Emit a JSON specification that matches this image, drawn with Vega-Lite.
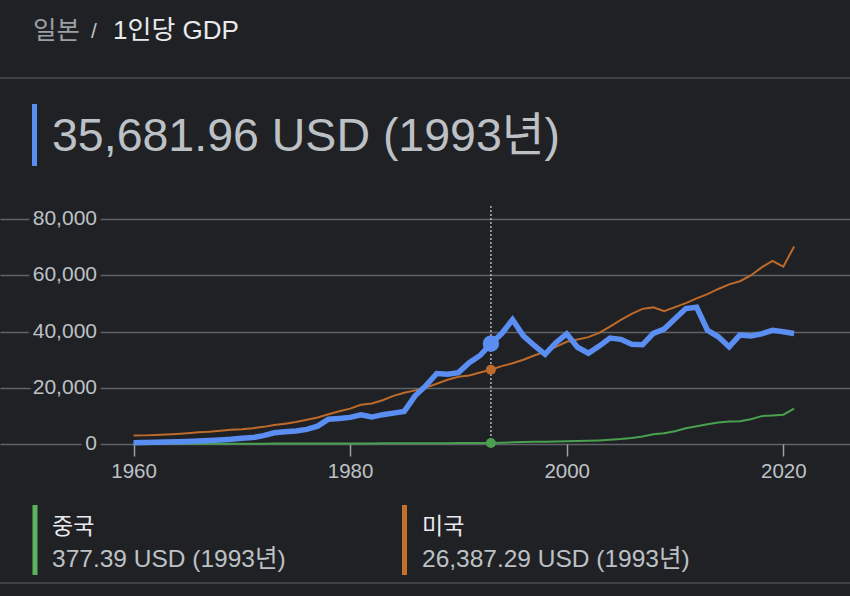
{
  "$schema": "https://vega.github.io/schema/vega-lite/v6.json",
  "width": 850,
  "height": 596,
  "autosize": {"type": "none"},
  "padding": 0,
  "background": "#202124",
  "config": {
    "view": {"stroke": null},
    "font": "Liberation Sans, Noto Sans CJK KR",
    "text": {"font": "Liberation Sans, Noto Sans CJK KR"}
  },
  "data": {
    "values": [
      {"year": 1960, "japan": 479, "usa": 3007, "china": 90},
      {"year": 1961, "japan": 564, "usa": 3067, "china": 76},
      {"year": 1962, "japan": 634, "usa": 3244, "china": 70},
      {"year": 1963, "japan": 717, "usa": 3375, "china": 74},
      {"year": 1964, "japan": 835, "usa": 3574, "china": 85},
      {"year": 1965, "japan": 919, "usa": 3828, "china": 98},
      {"year": 1966, "japan": 1059, "usa": 4146, "china": 104},
      {"year": 1967, "japan": 1229, "usa": 4336, "china": 97},
      {"year": 1968, "japan": 1451, "usa": 4696, "china": 91},
      {"year": 1969, "japan": 1669, "usa": 5032, "china": 100},
      {"year": 1970, "japan": 2037, "usa": 5234, "china": 113},
      {"year": 1971, "japan": 2272, "usa": 5609, "china": 119},
      {"year": 1972, "japan": 2967, "usa": 6094, "china": 132},
      {"year": 1973, "japan": 3997, "usa": 6726, "china": 157},
      {"year": 1974, "japan": 4354, "usa": 7226, "china": 160},
      {"year": 1975, "japan": 4659, "usa": 7801, "china": 178},
      {"year": 1976, "japan": 5197, "usa": 8592, "china": 165},
      {"year": 1977, "japan": 6335, "usa": 9453, "china": 185},
      {"year": 1978, "japan": 8821, "usa": 10565, "china": 156},
      {"year": 1979, "japan": 9105, "usa": 11674, "china": 184},
      {"year": 1980, "japan": 9463, "usa": 12575, "china": 195},
      {"year": 1981, "japan": 10361, "usa": 13976, "china": 197},
      {"year": 1982, "japan": 9578, "usa": 14434, "china": 203},
      {"year": 1983, "japan": 10425, "usa": 15544, "china": 225},
      {"year": 1984, "japan": 10985, "usa": 17121, "china": 251},
      {"year": 1985, "japan": 11585, "usa": 18237, "china": 294},
      {"year": 1986, "japan": 17112, "usa": 19071, "china": 282},
      {"year": 1987, "japan": 20745, "usa": 20039, "china": 252},
      {"year": 1988, "japan": 25052, "usa": 21417, "china": 284},
      {"year": 1989, "japan": 24813, "usa": 22857, "china": 311},
      {"year": 1990, "japan": 25371, "usa": 23889, "china": 318},
      {"year": 1991, "japan": 28925, "usa": 24342, "china": 333},
      {"year": 1992, "japan": 31465, "usa": 25419, "china": 366},
      {"year": 1993, "japan": 35681.96, "usa": 26387.29, "china": 377.39},
      {"year": 1994, "japan": 39269, "usa": 27695, "china": 473},
      {"year": 1995, "japan": 44198, "usa": 28691, "china": 610},
      {"year": 1996, "japan": 38437, "usa": 29968, "china": 709},
      {"year": 1997, "japan": 35022, "usa": 31459, "china": 782},
      {"year": 1998, "japan": 31903, "usa": 32854, "china": 829},
      {"year": 1999, "japan": 36027, "usa": 34515, "china": 873},
      {"year": 2000, "japan": 39169, "usa": 36330, "china": 959},
      {"year": 2001, "japan": 34406, "usa": 37134, "china": 1053},
      {"year": 2002, "japan": 32289, "usa": 37998, "china": 1149},
      {"year": 2003, "japan": 34808, "usa": 39490, "china": 1289},
      {"year": 2004, "japan": 37688, "usa": 41725, "china": 1509},
      {"year": 2005, "japan": 37218, "usa": 44123, "china": 1753},
      {"year": 2006, "japan": 35434, "usa": 46302, "china": 2099},
      {"year": 2007, "japan": 35275, "usa": 48050, "china": 2694},
      {"year": 2008, "japan": 39339, "usa": 48570, "china": 3468},
      {"year": 2009, "japan": 40855, "usa": 47195, "china": 3832},
      {"year": 2010, "japan": 44508, "usa": 48651, "china": 4550},
      {"year": 2011, "japan": 48168, "usa": 50066, "china": 5614},
      {"year": 2012, "japan": 48603, "usa": 51784, "china": 6301},
      {"year": 2013, "japan": 40454, "usa": 53291, "china": 7020},
      {"year": 2014, "japan": 38109, "usa": 55124, "china": 7636},
      {"year": 2015, "japan": 34524, "usa": 56763, "china": 8016},
      {"year": 2016, "japan": 38794, "usa": 57867, "china": 8094},
      {"year": 2017, "japan": 38387, "usa": 59915, "china": 8817},
      {"year": 2018, "japan": 39159, "usa": 62805, "china": 9905},
      {"year": 2019, "japan": 40416, "usa": 65095, "china": 10144},
      {"year": 2020, "japan": 39918, "usa": 63028, "china": 10409},
      {"year": 2021, "japan": 39313, "usa": 70249, "china": 12556}
    ]
  },
  "layer": [
    {
      "mark": {"type": "rule", "opacity": 0},
      "encoding": {
        "x": {"field": "year", "type": "quantitative",
          "scale": {"domain": [1947.67, 2026.16], "nice": false, "zero": false},
          "axis": {"orient": "bottom", "offset": -152, "values": [1960, 1980, 2000, 2020], "format": "d",
            "domain": false, "grid": false, "ticks": true, "tickSize": 12, "tickWidth": 1.5, "tickColor": "#9aa0a6",
            "labelFontSize": 20.5, "labelColor": "#bdc1c6", "labelPadding": 5, "labelFont": "Liberation Sans", "title": null}},
        "y": {"field": "japan", "type": "quantitative",
          "scale": {"domain": [-54044, 157867], "nice": false, "zero": false},
          "axis": {"values": [0, 20000, 40000, 60000, 80000], "grid": true, "gridColor": "#5f6368", "gridWidth": 1.5,
            "labels": false, "ticks": false, "domain": false, "title": null}}
      }
    },
    {
      "data": {"values": [{"v": 0}, {"v": 20000}, {"v": 40000}, {"v": 60000}, {"v": 80000}]},
      "mark": {"type": "text", "align": "right", "baseline": "middle", "fontSize": 21, "font": "Liberation Sans",
        "stroke": "#202124", "strokeWidth": 9, "fill": "#202124"},
      "encoding": {
        "x": {"value": 97},
        "y": {"field": "v", "type": "quantitative"},
        "text": {"field": "v", "type": "quantitative", "format": ",d"}
      }
    },
    {
      "data": {"values": [{"v": 0}, {"v": 20000}, {"v": 40000}, {"v": 60000}, {"v": 80000}]},
      "mark": {"type": "text", "align": "right", "baseline": "middle", "fontSize": 21, "font": "Liberation Sans",
        "fill": "#bdc1c6"},
      "encoding": {
        "x": {"value": 97},
        "y": {"field": "v", "type": "quantitative"},
        "text": {"field": "v", "type": "quantitative", "format": ",d"}
      }
    },
    {
      "transform": [{"filter": "datum.year == 1993"}],
      "mark": {"type": "rule", "color": "#b0b4b8", "strokeWidth": 1.5, "strokeDash": [2, 2]},
      "encoding": {
        "x": {"field": "year", "type": "quantitative"},
        "y": {"datum": 0},
        "y2": {"datum": 84700}
      }
    },
    {
      "mark": {"type": "line", "color": "#4aa04f", "strokeWidth": 2},
      "encoding": {
        "x": {"field": "year", "type": "quantitative"},
        "y": {"field": "china", "type": "quantitative"}
      }
    },
    {
      "mark": {"type": "line", "color": "#bd6a2b", "strokeWidth": 2},
      "encoding": {
        "x": {"field": "year", "type": "quantitative"},
        "y": {"field": "usa", "type": "quantitative"}
      }
    },
    {
      "mark": {"type": "line", "color": "#5a8ef2", "strokeWidth": 5.5, "strokeJoin": "miter"},
      "encoding": {
        "x": {"field": "year", "type": "quantitative"},
        "y": {"field": "japan", "type": "quantitative"}
      }
    },
    {
      "transform": [{"filter": "datum.year == 1993"}],
      "mark": {"type": "point", "filled": true, "opacity": 1, "color": "#4aa04f", "size": 100},
      "encoding": {
        "x": {"field": "year", "type": "quantitative"},
        "y": {"field": "china", "type": "quantitative"}
      }
    },
    {
      "transform": [{"filter": "datum.year == 1993"}],
      "mark": {"type": "point", "filled": true, "opacity": 1, "color": "#bd6a2b", "size": 100},
      "encoding": {
        "x": {"field": "year", "type": "quantitative"},
        "y": {"field": "usa", "type": "quantitative"}
      }
    },
    {
      "transform": [{"filter": "datum.year == 1993"}],
      "mark": {"type": "point", "filled": true, "opacity": 1, "color": "#5a8ef2", "size": 270},
      "encoding": {
        "x": {"field": "year", "type": "quantitative"},
        "y": {"field": "japan", "type": "quantitative"}
      }
    },
    {
      "data": {"values": [{"y": 78}, {"y": 583}]},
      "mark": {"type": "rule", "color": "#3c4043", "strokeWidth": 2},
      "encoding": {"x": {"value": 0}, "x2": {"value": 850}, "y": {"field": "y", "type": "quantitative", "scale": null}}
    },
    {
      "data": {"values": [{}]},
      "mark": {"type": "text", "text": "일본", "fontSize": 25.5, "fill": "#9aa0a6", "align": "left", "baseline": "alphabetic"},
      "encoding": {"x": {"value": 33}, "y": {"value": 39}}
    },
    {
      "data": {"values": [{}]},
      "mark": {"type": "text", "text": "/", "fontSize": 21, "fill": "#bdc1c6", "align": "left", "baseline": "alphabetic"},
      "encoding": {"x": {"value": 91}, "y": {"value": 38}}
    },
    {
      "data": {"values": [{}]},
      "mark": {"type": "text", "text": "1인당 GDP", "fontSize": 26, "fill": "#e8eaed", "align": "left", "baseline": "alphabetic"},
      "encoding": {"x": {"value": 113}, "y": {"value": 39}}
    },
    {
      "data": {"values": [{}]},
      "mark": {"type": "rule", "color": "#5a8ef2", "strokeWidth": 5},
      "encoding": {"x": {"value": 34.5}, "y": {"value": 104}, "y2": {"value": 166}}
    },
    {
      "data": {"values": [{}]},
      "mark": {"type": "text", "text": "35,681.96 USD (1993년)", "fontSize": 46.5, "fill": "#bdc1c6", "align": "left", "baseline": "alphabetic"},
      "encoding": {"x": {"value": 52}, "y": {"value": 151}}
    },
    {
      "data": {"values": [{}]},
      "mark": {"type": "rule", "color": "#5cb35f", "strokeWidth": 5},
      "encoding": {"x": {"value": 35}, "y": {"value": 505}, "y2": {"value": 575}}
    },
    {
      "data": {"values": [{}]},
      "mark": {"type": "text", "text": "중국", "fontSize": 23, "fill": "#e8eaed", "align": "left", "baseline": "alphabetic"},
      "encoding": {"x": {"value": 52}, "y": {"value": 534}}
    },
    {
      "data": {"values": [{}]},
      "mark": {"type": "text", "text": "377.39 USD (1993년)", "fontSize": 24.5, "fill": "#bdc1c6", "align": "left", "baseline": "alphabetic"},
      "encoding": {"x": {"value": 52}, "y": {"value": 567}}
    },
    {
      "data": {"values": [{}]},
      "mark": {"type": "rule", "color": "#c2702c", "strokeWidth": 5},
      "encoding": {"x": {"value": 404.5}, "y": {"value": 505}, "y2": {"value": 575}}
    },
    {
      "data": {"values": [{}]},
      "mark": {"type": "text", "text": "미국", "fontSize": 23, "fill": "#e8eaed", "align": "left", "baseline": "alphabetic"},
      "encoding": {"x": {"value": 422}, "y": {"value": 534}}
    },
    {
      "data": {"values": [{}]},
      "mark": {"type": "text", "text": "26,387.29 USD (1993년)", "fontSize": 24.5, "fill": "#bdc1c6", "align": "left", "baseline": "alphabetic"},
      "encoding": {"x": {"value": 422}, "y": {"value": 567}}
    }
  ]
}
